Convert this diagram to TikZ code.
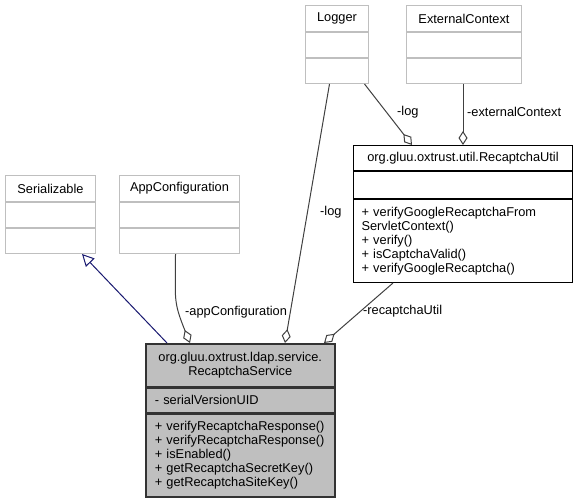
\documentclass[tikz,border=0pt]{standalone}
\usepackage{fontspec}
\setmainfont{Liberation Sans}
\usetikzlibrary{positioning,arrows.meta}
\definecolor{grisbord}{HTML}{BFBFBF}
\definecolor{grisfond}{HTML}{BFBFBF}
\definecolor{trait}{HTML}{404040}
\definecolor{bleunuit}{HTML}{191970}
\tikzstyle{boite}=[rectangle,draw=grisbord,line width=1pt,inner sep=0pt,font=\fontsize{12.8}{14}\selectfont]
\tikzstyle{boitenoire}=[boite,draw=black]
\tikzstyle{boiteprinc}=[boite,draw=black!80,fill=grisfond,line width=1.5pt]
\tikzstyle{agreg}=[draw=trait,line width=1pt,-{Diamond[open,length=14pt,width=9pt]}]
\tikzstyle{herit}=[draw=bleunuit,line width=1pt,-{Triangle[open,length=12pt,width=12pt]}]
\tikzstyle{etiq}=[anchor=west,inner sep=0pt,font=\fontsize{12.8}{14}\selectfont]

\begin{document}
\begin{tikzpicture}[x=1pt,y=1pt]
\useasboundingbox (0,0) rectangle (578,-500);

% Serializable
\node[boite,anchor=north west,minimum width=90,minimum height=26] (S1) at (5,-175) {Serializable};
\node[boite,minimum width=90,minimum height=25,below=0pt of S1] (S2) {};
\node[boite,minimum width=90,minimum height=25,below=0pt of S2] (S3) {};

% AppConfiguration
\node[boite,anchor=north west,minimum width=120,minimum height=26] (A1) at (119,-175) {AppConfiguration};
\node[boite,minimum width=120,minimum height=25,below=0pt of A1] (A2) {};
\node[boite,minimum width=120,minimum height=25,below=0pt of A2] (A3) {};

% Logger
\node[boite,anchor=north west,minimum width=63,minimum height=26] (L1) at (305,-5) {Logger};
\node[boite,minimum width=63,minimum height=25,below=0pt of L1] (L2) {};
\node[boite,minimum width=63,minimum height=25,below=0pt of L2] (L3) {};

% ExternalContext
\node[boite,anchor=north west,minimum width=115,minimum height=26] (E1) at (406,-5) {ExternalContext};
\node[boite,minimum width=115,minimum height=25,below=0pt of E1] (E2) {};
\node[boite,minimum width=115,minimum height=25,below=0pt of E2] (E3) {};

% RecaptchaUtil
\node[boitenoire,anchor=north west,minimum width=219,minimum height=25] (U1) at (353,-145) {org.gluu.oxtrust.util.RecaptchaUtil};
\node[boitenoire,minimum width=219,minimum height=27,below=0pt of U1] (U2) {};
\node[boitenoire,minimum width=219,minimum height=83,text width=203,align=left,below=0pt of U2] (U3)
  {+ verifyGoogleRecaptchaFrom\\ServletContext()\\+ verify()\\+ isCaptchaValid()\\+ verifyGoogleRecaptcha()};

% RecaptchaService
\node[boiteprinc,anchor=north west,minimum width=189,minimum height=43,align=center] (P1) at (145,-343)
  {org.gluu.oxtrust.ldap.service.\\RecaptchaService};
\node[boiteprinc,minimum width=189,minimum height=24,text width=171,align=left,below=0pt of P1] (P2) {- serialVersionUID};
\node[boiteprinc,minimum width=189,minimum height=83,text width=171,align=left,below=0pt of P2] (P3)
  {+ verifyRecaptchaResponse()\\+ verifyRecaptchaResponse()\\+ isEnabled()\\+ getRecaptchaSecretKey()\\+ getRecaptchaSiteKey()};

\draw[herit] ([xshift=22pt]P1.north west) -- ([xshift=-14pt]S3.south east);
\draw[agreg] ([xshift=-4pt]A3.south) to[out=-90,in=112,looseness=1.3] ([xshift=45pt]P1.north west);
\node[etiq] (eApp) at (185,-312) {-appConfiguration};
\draw[agreg] ([xshift=-7.5pt]L3.south) -- ([xshift=140pt]P1.north west);
\node[etiq] (eLog1) at (320,-212) {-log};
\draw[agreg] ([xshift=27.5pt]L3.south) -- ([xshift=59pt]U1.north west);
\node[etiq] (eLog2) at (397,-112) {-log};
\draw[agreg] ([xshift=57pt]E3.south west) -- ([xshift=110pt]U1.north west);
\node[etiq] (eExt) at (467,-112) {-externalContext};
\draw[agreg] ([xshift=40pt]U3.south west) -- ([xshift=179pt]P1.north west);
\node[etiq] (eUtil) at (363,-311) {-recaptchaUtil};

\end{tikzpicture}
\end{document}
